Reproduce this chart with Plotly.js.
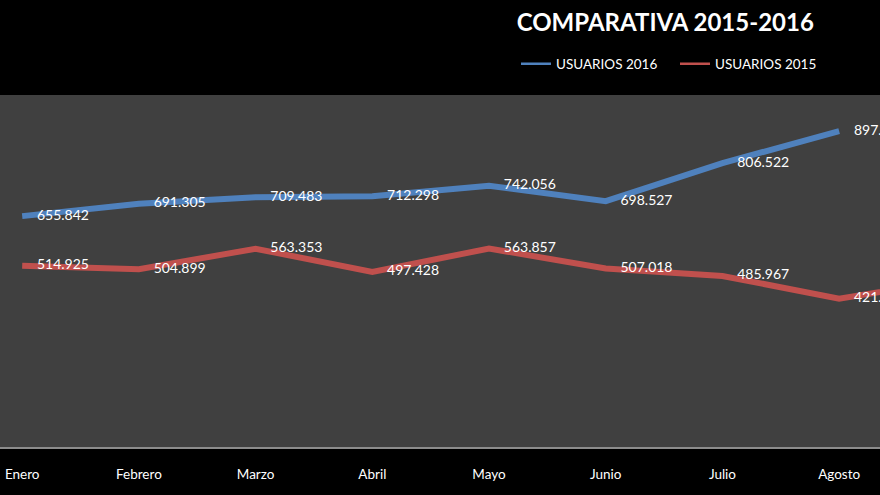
<!DOCTYPE html>
<html>
<head>
<meta charset="utf-8">
<script src="https://cdn.plot.ly/plotly-3.0.1.min.js"></script>
<style>
  html, body { margin: 0; padding: 0; background: #000; }
  #plot { width: 880px; height: 495px; }
</style>
</head>
<body>
<div id="plot"></div>
<script>
// months shown on the axis (Septiembre sits just past the right edge)
var meses = ["Enero", "Febrero", "Marzo", "Abril", "Mayo", "Junio", "Julio", "Agosto", "Septiembre"];

// users per month
var usuarios2016 = [655842, 691305, 709483, 712298, 742056, 698527, 806522, 897300];
var usuarios2015 = [514925, 504899, 563353, 497428, 563857, 507018, 485967, 421300, 476000];

var fuente = "Lato, 'Open Sans', sans-serif";

var trace2016 = {
    x: meses.slice(0, usuarios2016.length),
    y: usuarios2016,
    name: "USUARIOS 2016",
    type: "scatter",
    mode: "lines+markers+text",
    line: { color: "#4f81bd", width: 6 },
    marker: { size: 22, opacity: 0 },
    texttemplate: "%{y:,}",
    textposition: "middle right",
    textfont: { color: "#ffffff", size: 14, family: fuente },
    showlegend: false,
    hoverinfo: "none"
};

var trace2015 = {
    x: meses,
    y: usuarios2015,
    name: "USUARIOS 2015",
    type: "scatter",
    mode: "lines+markers+text",
    line: { color: "#c0504d", width: 6 },
    marker: { size: 22, opacity: 0 },
    texttemplate: "%{y:,}",
    textposition: "middle right",
    textfont: { color: "#ffffff", size: 14, family: fuente },
    showlegend: false,
    hoverinfo: "none"
};

// legend entries drawn with the thin line sample of the original
var leyenda2016 = {
    x: [null], y: [null], type: "scatter", mode: "lines",
    name: "USUARIOS 2016", line: { color: "#4f81bd", width: 2.5 },
    legend: "legend"
};
var leyenda2015 = {
    x: [null], y: [null], type: "scatter", mode: "lines",
    name: "USUARIOS 2015", line: { color: "#c0504d", width: 2.5 },
    legend: "legend2"
};

var data = [trace2016, trace2015, leyenda2016, leyenda2015];

var layout = {
    width: 880,
    height: 495,
    separators: ",.",
    paper_bgcolor: "#000000",
    plot_bgcolor: "#404040",
    margin: { l: 0, r: 0, t: 95, b: 48, autoexpand: false },
    title: {
        text: "<b>COMPARATIVA 2015-2016</b>",
        font: { color: "#ffffff", size: 24, family: fuente },
        x: 0.756,
        xanchor: "center",
        y: 0.955,
        yanchor: "middle"
    },
    showlegend: true,
    legend: {
        xref: "container", yref: "container",
        x: 516 / 880, xanchor: "left",
        y: 1 - 64 / 495, yanchor: "middle",
        font: { color: "#ffffff", size: 13.5, family: fuente },
        bgcolor: "rgba(0,0,0,0)",
        itemwidth: 30
    },
    legend2: {
        xref: "container", yref: "container",
        x: 675 / 880, xanchor: "left",
        y: 1 - 64 / 495, yanchor: "middle",
        font: { color: "#ffffff", size: 13.5, family: fuente },
        bgcolor: "rgba(0,0,0,0)",
        itemwidth: 30
    },
    xaxis: {
        type: "category",
        range: [-0.19, 7.35],
        automargin: false,
        showgrid: false,
        zeroline: false,
        showline: true,
        linecolor: "#8c8c8c",
        linewidth: 2,
        ticks: "outside",
        ticklen: 14,
        tickcolor: "rgba(0,0,0,0)",
        tickfont: { color: "#ffffff", size: 13.5, family: fuente },
        fixedrange: true
    },
    yaxis: {
        range: [0, 1000000],
        automargin: false,
        showgrid: false,
        zeroline: false,
        showticklabels: false,
        fixedrange: true
    }
};

Plotly.newPlot("plot", data, layout, { displayModeBar: false, staticPlot: true });
</script>
</body>
</html>
